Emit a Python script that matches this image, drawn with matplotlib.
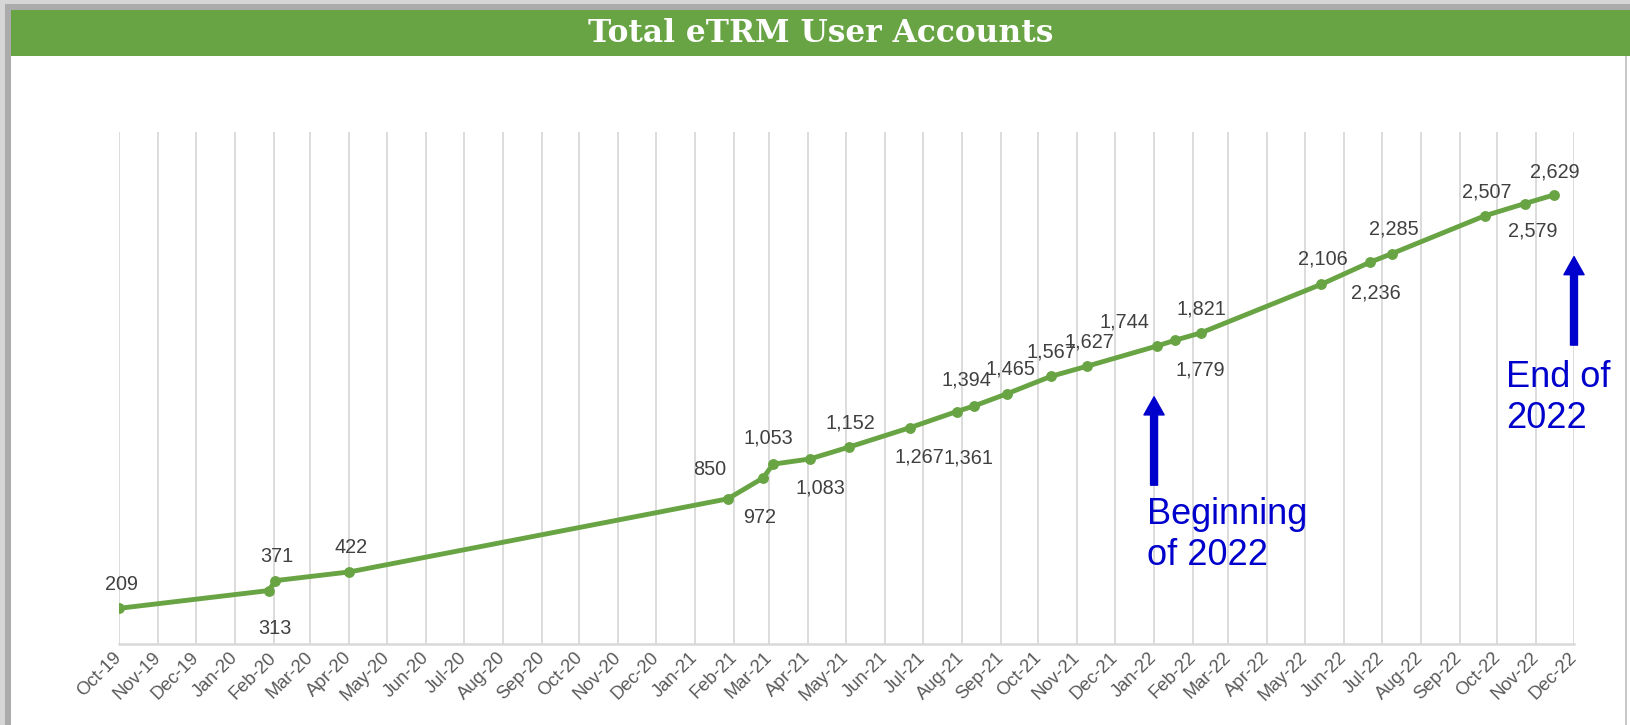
import matplotlib
matplotlib.use("Agg")
import matplotlib.pyplot as plt
import pandas as pd
from matplotlib.patches import Rectangle

# data
dates = ["2019-10-01", "2020-01-28", "2020-02-02", "2020-04-01",
         "2021-01-27", "2021-02-24", "2021-03-04", "2021-04-02",
         "2021-05-03", "2021-06-21", "2021-07-28", "2021-08-11",
         "2021-09-06", "2021-10-11", "2021-11-09", "2022-01-03",
         "2022-01-18", "2022-02-07", "2022-05-14", "2022-06-22",
         "2022-07-09", "2022-09-21", "2022-10-23", "2022-11-15"]
accounts = [209, 313, 371, 422, 850, 972, 1053, 1083, 1152, 1267, 1361, 1394,
            1465, 1567, 1627, 1744, 1779, 1821, 2106, 2236, 2285, 2507, 2579, 2629]

# label placement (pixels from the point, +y = up)
label_offsets = [(2, 24), (6, -38), (2, 24), (2, 24), (-18, 29), (-3, -40),
                 (-5, 26), (11, -29), (2, 24), (9, -29), (12, -46), (-8, 26),
                 (3, 25), (0, 24), (2, 24), (-32, 24), (25, -30), (1, 24),
                 (2, 25), (6, -31), (2, 25), (2, 24), (8, -27), (1, 23)]

GREEN = "#68A444"
BLUE = "#0000CC"
W, H = 1630, 725

plt.rcParams['font.family'] = ['Liberation Sans', 'DejaVu Sans']
fig = plt.figure(figsize=(W / 100, H / 100), dpi=100)


def px_rect(x0, y0, x1, y1, color):
    fig.patches.append(Rectangle((x0 / W, 1 - y1 / H), (x1 - x0) / W, (y1 - y0) / H,
                                 transform=fig.transFigure, facecolor=color,
                                 edgecolor="none", zorder=0))


# frame / shadow
px_rect(0, 0, W, 10, "#D6D6D6")
px_rect(5, 4, W, 10, "#ABABAB")
px_rect(0, 0, 5, H, "#D6D6D6")
px_rect(5, 4, 11, H, "#ABABAB")
px_rect(1625, 56, 1627, H, "#C8C8C8")
px_rect(11, 10, W, 56, GREEN)
fig.text((11 + W) / 2 / W, 1 - 34 / H, "Total eTRM User Accounts", color="white",
         family="DejaVu Serif", fontweight="bold", fontsize=22.5,
         ha="center", va="center")

x0, x1, y0, y1 = 119.3, 1574, 644, 131.6
ax = fig.add_axes([x0 / W, 1 - y0 / H, (x1 - x0) / W, (y0 - y1) / H])
ax.set_facecolor("none")

x = pd.to_datetime(dates)
ax.plot(x, accounts, color=GREEN, lw=3.5, marker="o", ms=6.8,
        solid_capstyle="round", zorder=3)

for d, v, off in zip(x, accounts, label_offsets):
    ax.annotate(f"{v:,}", (d, v), xytext=off, textcoords="offset pixels",
                ha="center", va="center", fontsize=14.3, color="#404040")

months = pd.date_range("2019-10-01", "2022-12-01", freq="MS")
ax.set_xlim(months[0], months[-1])
ax.set_ylim(0, 3000)
ax.set_xticks(months)
ax.set_xticklabels(months.strftime("%b-%y"), rotation=45, ha="right",
                   va="center", rotation_mode="anchor")
ax.tick_params(axis="x", length=0, pad=8, labelsize=13.2, labelcolor="#595959")
ax.set_yticks([])
ax.xaxis.grid(True, color="#D9D9D9", lw=1.3)
ax.set_axisbelow(True)
for s in ["top", "left", "right"]:
    ax.spines[s].set_visible(False)
ax.spines["bottom"].set_color("#D9D9D9")
ax.spines["bottom"].set_linewidth(1.8)

# annotations
arrow = dict(width=5, headwidth=14.5, headlength=13, color=BLUE, shrink=0)
jan22 = pd.Timestamp("2022-01-01")
dec22 = pd.Timestamp("2022-12-01")
ax.annotate("", xy=(jan22, 1447), xytext=(jan22, 930), arrowprops=arrow,
            annotation_clip=False)
ax.annotate("", xy=(dec22, 2268), xytext=(dec22, 1750), arrowprops=arrow,
            annotation_clip=False)
ax.annotate("Beginning\nof 2022", (jan22, 930), xytext=(-7, -12),
            textcoords="offset pixels", ha="left", va="top", fontsize=26,
            color=BLUE, linespacing=1.2, annotation_clip=False)
ax.annotate("End of\n2022", (dec22, 1750), xytext=(-68, -15),
            textcoords="offset pixels", ha="left", va="top", fontsize=26,
            color=BLUE, linespacing=1.2, annotation_clip=False)

fig.savefig("out.png", dpi=100)
